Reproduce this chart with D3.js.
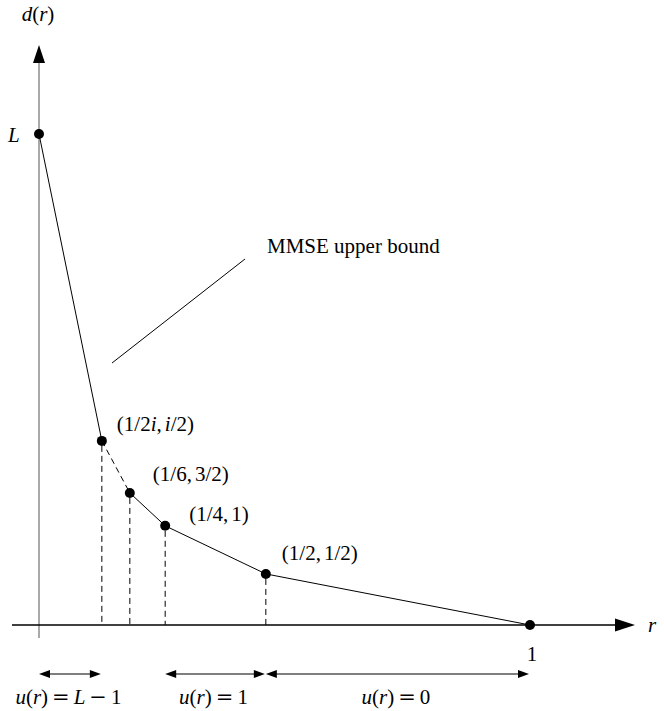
<!DOCTYPE html>
<html lang="en">
<head>
<meta charset="utf-8">
<title>MMSE upper bound</title>
<script src="https://cdn.jsdelivr.net/npm/d3@7"></script>
<style>
  body { margin: 0; background: #fff; }
  text { font-family: "Liberation Serif", "DejaVu Serif", serif; font-size: 21px; fill: #000; }
  .op { font-family: "DejaVu Serif", serif; }
</style>
</head>
<body>
<div id="chart"></div>
<script>
// breakpoints of the curve (schematic positions)
var rVals = [0, 0.128, 0.185, 0.257, 0.462, 1];
var dVals = [1, 0.375, 0.269, 0.202, 0.104, 0];
var pointLabels = ["", "(1/2i, i/2)", "(1/6, 3/2)", "(1/4, 1)", "(1/2, 1/2)", ""];
// style of segment i (from point i to i+1)
var segDash = [false, true, false, false, false];
// u(r) ranges under the axis: index of start / end breakpoints
var spanFrom = [0, 3, 4];
var spanTo = [1, 4, 5];
var spanLabels = ["u(r) = L \u2212 1", "u(r) = 1", "u(r) = 0"];

// label placement relative to each point
var labelDx = [0, 15, 23, 24, 16, 0];
var labelDy = [0, -10, -12, -5, -14, 0];

var w = 664, h = 711;
var x0 = 39, x1 = 530, y0 = 625, yTop = 134;

var svg = d3.select("#chart").append("svg")
  .attr("width", w).attr("height", h);

var x = d3.scaleLinear().domain([0, 1]).range([x0, x1]);
var y = d3.scaleLinear().domain([0, 1]).range([y0, yTop]);

// math-ish text: latin letters italic, = and minus wider with space around
function mathText(sel, str) {
  var pad = 0;
  str.split("").forEach(function(c) {
    if (c === " ") return;
    var t = sel.append("tspan").text(c);
    if (/[A-Za-z]/.test(c)) t.style("font-style", "italic");
    if (c === "=" || c === "\u2212") {
      t.attr("class", "op");
      pad += 4;
    }
    if (pad) t.attr("dx", pad);
    pad = 0;
    if (c === "=" || c === "\u2212") pad = 4;
    if (c === ",") pad = 3;
  });
}

// axes
svg.append("line")
  .attr("x1", x0).attr("y1", 638).attr("x2", x0).attr("y2", 60)
  .attr("stroke", "#555").attr("stroke-width", 1);
svg.append("path")
  .attr("d", "M" + x0 + ",45 L" + (x0 - 6) + ",63 L" + (x0 + 6) + ",63 Z")
  .attr("fill", "#000");
svg.append("line")
  .attr("x1", 12).attr("y1", y0).attr("x2", 617).attr("y2", y0)
  .attr("stroke", "#000").attr("stroke-width", 1.3);
svg.append("path")
  .attr("d", "M635," + y0 + " L615," + (y0 - 6.5) + " L615," + (y0 + 6.5) + " Z")
  .attr("fill", "#000");

// dashed drop lines
svg.selectAll("line.drop")
  .data(d3.range(1, 5))
  .enter().append("line")
  .attr("class", "drop")
  .attr("x1", function(i) { return x(rVals[i]); })
  .attr("x2", function(i) { return x(rVals[i]); })
  .attr("y1", function(i) { return y(dVals[i]) + 5; })
  .attr("y2", y0)
  .attr("stroke", "#000").attr("stroke-width", 1)
  .attr("stroke-dasharray", "6,4");

// curve segments
svg.selectAll("line.seg")
  .data(d3.range(0, 5))
  .enter().append("line")
  .attr("class", "seg")
  .attr("x1", function(i) { return x(rVals[i]); })
  .attr("y1", function(i) { return y(dVals[i]); })
  .attr("x2", function(i) { return x(rVals[i + 1]); })
  .attr("y2", function(i) { return y(dVals[i + 1]); })
  .attr("stroke", "#000").attr("stroke-width", 1)
  .attr("stroke-dasharray", function(i) { return segDash[i] ? "6,4" : null; });

// points
svg.selectAll("circle")
  .data(rVals)
  .enter().append("circle")
  .attr("cx", function(d) { return x(d); })
  .attr("cy", function(d, i) { return y(dVals[i]); })
  .attr("r", 5)
  .attr("fill", "#000");

// point labels
svg.selectAll("text.pt")
  .data(d3.range(1, 5))
  .enter().append("text")
  .attr("class", "pt")
  .attr("x", function(i) { return x(rVals[i]) + labelDx[i]; })
  .attr("y", function(i) { return y(dVals[i]) + labelDy[i]; })
  .each(function(i) { mathText(d3.select(this), pointLabels[i]); });

// axis labels
mathText(svg.append("text").attr("x", 38).attr("y", 21).attr("text-anchor", "middle"), "d(r)");
mathText(svg.append("text").attr("x", 8).attr("y", 142), "L");
mathText(svg.append("text").attr("x", 648).attr("y", 632), "r");
svg.append("text").attr("x", x(1) + 2).attr("y", 661).attr("text-anchor", "middle").text("1");

// annotation
svg.append("line")
  .attr("x1", 112).attr("y1", 363).attr("x2", 245).attr("y2", 259)
  .attr("stroke", "#000").attr("stroke-width", 1);
svg.append("text").attr("x", 267).attr("y", 253).text("MMSE upper bound");

// u(r) double arrows
var ay = 674;
var spans = svg.selectAll("g.span")
  .data(d3.range(spanLabels.length))
  .enter().append("g").attr("class", "span");
spans.append("line")
  .attr("x1", function(i) { return x(rVals[spanFrom[i]]) + 6; })
  .attr("x2", function(i) { return x(rVals[spanTo[i]]) - 6; })
  .attr("y1", ay).attr("y2", ay)
  .attr("stroke", "#000").attr("stroke-width", 1.2);
spans.append("path")
  .attr("d", function(i) {
    var a = x(rVals[spanFrom[i]]), b = x(rVals[spanTo[i]]);
    return "M" + a + "," + ay + " l11,-4 l0,8 Z M" + (b - 1) + "," + ay + " l-11,-4 l0,8 Z";
  })
  .attr("fill", "#000");
spans.append("text")
  .attr("x", function(i) { return (x(rVals[spanFrom[i]]) + x(rVals[spanTo[i]])) / 2 - 2; })
  .attr("y", 704)
  .attr("text-anchor", "middle")
  .each(function(i) { mathText(d3.select(this), spanLabels[i]); });
</script>
</body>
</html>
